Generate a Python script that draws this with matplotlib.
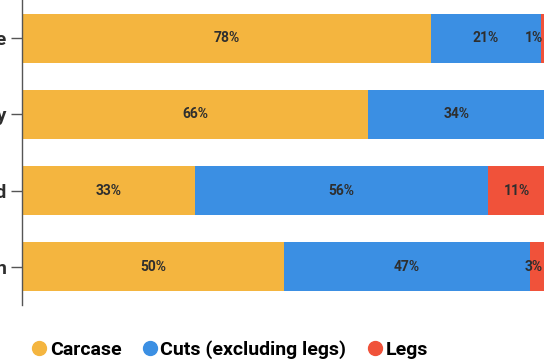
import matplotlib.pyplot as plt
from matplotlib.lines import Line2D

plt.rcParams['font.family'] = ['Roboto', 'DejaVu Sans']

# Shares by channel (label text is cropped in the reference, only last letter shows)
channels = ['Wholesale', 'Butchery', 'Processed', 'Supermarket chain']
carcase = [78, 66, 33, 50]
cuts = [21, 34, 56, 47]
legs = [1, 0, 11, 3]

series = ['Carcase', 'Cuts (excluding legs)', 'Legs']
colors = ['#F4B53F', '#3B8FE3', '#F0523A']

fig = plt.figure(figsize=(5.44, 3.62), dpi=100)
ax = fig.add_axes([22 / 544, 57 / 362, 524 / 544, 305 / 362])

y = range(len(channels))
left = [0] * len(channels)
for name, vals, col in zip(series, [carcase, cuts, legs], colors):
    ax.barh(y, vals, left=left, height=0.64, color=col, label=name)
    for i, v in enumerate(vals):
        if v <= 0:
            continue
        cx = left[i] + v / 2
        if cx > 97:
            ax.text(99.4, i, f'{v}%', ha='right', va='center',
                    fontsize=10, fontweight='bold', color='#2e2e2e')
        else:
            ax.text(cx, i, f'{v}%', ha='center', va='center',
                    fontsize=10, fontweight='bold', color='#2e2e2e')
    left = [a + b for a, b in zip(left, vals)]

ax.set_xlim(0, 100)
ax.set_ylim(-0.5, len(channels) - 0.5)
ax.invert_yaxis()
ax.set_yticks(list(y))
ax.set_yticklabels(channels, fontsize=14, fontweight='bold', color='#2e2e2e')
ax.tick_params(axis='y', length=8, width=1, color='#555555', pad=3)
ax.set_xticks([])
for s in ['top', 'right', 'bottom']:
    ax.spines[s].set_visible(False)
ax.spines['left'].set_color('#555555')
ax.spines['left'].set_linewidth(1)

handles = [Line2D([], [], marker='o', linestyle='', markersize=10,
                  markerfacecolor=c, markeredgecolor=c) for c in colors]
fig.legend(handles, series, loc='center left', bbox_to_anchor=(12 / 544, 12 / 362),
           ncol=3, frameon=False, handletextpad=0.05, columnspacing=0.95,
           handlelength=1.0, prop={'family': 'Roboto', 'weight': 'bold', 'size': 14})

fig.savefig('out.png', dpi=100)
